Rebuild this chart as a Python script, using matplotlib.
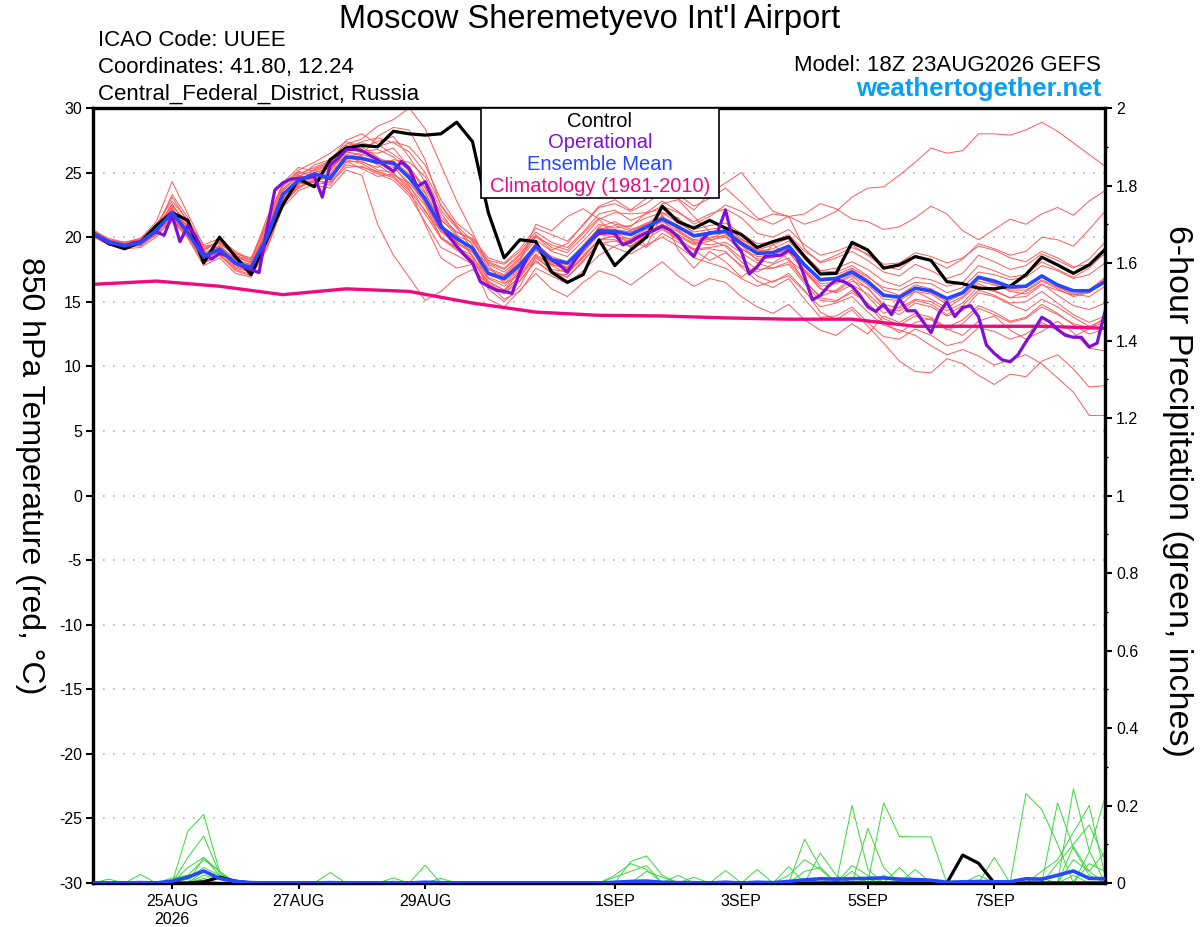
import matplotlib
matplotlib.use("Agg")
import matplotlib.pyplot as plt
from matplotlib.patches import Rectangle
from matplotlib.ticker import MultipleLocator
import pandas as pd

plt.rcParams['font.family'] = ['Liberation Sans', 'DejaVu Sans']

# 6-hourly GEFS times, 3-hourly operational, daily climatology
times = pd.date_range('2026-08-23 18:00', periods=65, freq='6h')
op_times = pd.date_range('2026-08-23 18:00', periods=129, freq='3h')
clim_times = pd.date_range('2026-08-23 18:00', periods=17, freq='1D')

control = [20.3, 19.5, 19.1, 19.6, 20.9, 21.9, 21.3, 18.0, 20.0, 18.5,
           17.1, 19.8, 22.5, 24.5, 23.9, 26.0, 26.9, 27.1, 27.0, 28.2,
           28.0, 27.9, 28.0, 28.9, 27.4, 21.9, 18.4, 19.8, 19.65, 17.3,
           16.5, 17.1, 19.8, 17.8, 19.0, 20.0, 22.4, 21.2, 20.7, 21.3,
           20.7, 20.2, 19.2, 19.65, 20.0, 18.5, 17.15, 17.2, 19.6, 19.0,
           17.6, 17.85, 18.5, 18.2, 16.55, 16.4, 16.05, 16.0, 16.2, 17.1,
           18.45, 17.85, 17.2, 17.85, 19.05]

operational = [20.3, 19.9, 19.55, 19.45, 19.3, 19.55, 19.65, 20.1, 20.4, 20.15,
               21.7, 19.65, 20.9, 20.05, 18.75, 18.3, 18.75, 18.55, 18.0, 17.7,
               17.5, 17.25, 20.6, 23.65, 24.2, 24.5, 24.55, 24.6, 24.7, 23.1,
               25.6, 26.1, 26.75, 26.8, 26.7, 26.35, 26.0, 25.5, 25.1, 25.85,
               25.3, 23.9, 24.3, 23.0, 20.95, 20.05, 19.3, 18.6, 18.0, 16.55,
               16.2, 15.9, 15.8, 15.65, 17.3, 18.5, 19.3, 18.75, 18.25, 17.85,
               17.3, 18.25, 19.15, 19.8, 20.3, 20.35, 20.3, 19.4, 19.65, 20.05,
               20.35, 20.55, 20.85, 20.55, 20.05, 19.15, 18.5, 19.8, 20.35, 20.4,
               22.1, 19.65, 18.9, 17.15, 17.7, 18.5, 18.55, 18.6, 19.0, 18.5,
               16.95, 15.15, 15.5, 16.2, 16.7, 16.55, 16.2, 15.5, 14.6, 14.25,
               14.8, 14.0, 15.2, 14.3, 14.3, 13.45, 12.6, 14.1, 15.0, 13.85,
               14.55, 14.7, 13.85, 11.65, 11.0, 10.5, 10.35, 10.9, 11.9, 12.8,
               13.8, 13.45, 12.85, 12.4, 12.25, 12.25, 11.5, 11.8, 14.25]

ens_mean = [20.3, 19.65, 19.35, 19.55, 20.5, 21.9, 20.35, 18.5, 19.05, 18.0,
            17.65, 20.0, 23.3, 24.4, 24.9, 24.55, 26.2, 26.1, 25.8, 25.75,
            24.6, 23.0, 20.8, 19.9, 19.15, 17.2, 16.8, 17.85, 19.3, 18.25,
            18.0, 19.15, 20.5, 20.45, 20.2, 20.8, 21.4, 20.8, 20.1, 20.3,
            20.45, 19.5, 18.75, 18.8, 19.3, 17.85, 16.7, 16.8, 17.3, 16.55,
            15.5, 15.35, 16.05, 15.85, 15.25, 15.7, 16.9, 16.6, 16.15, 16.2,
            17.0, 16.3, 15.85, 15.85, 16.55]

climatology = [16.35, 16.6, 16.2, 15.55, 16.0, 15.8, 14.9, 14.2, 13.95,
               13.9, 13.75, 13.65, 13.65, 13.1, 13.1, 13.1, 12.95]

members = [
    [20.6, 19.8, 19.5, 19.9, 20.8, 22.5, 21.0, 19.2, 19.6, 18.8, 18.2, 21.5, 24.0, 25.2, 25.8,
     26.5, 27.4, 27.0, 26.2, 25.5, 24.0, 22.0, 20.5, 19.6, 18.9, 18.0, 17.5, 18.6, 20.0, 19.4,
     19.0, 20.3, 21.5, 21.0, 20.8, 21.9, 22.8, 22.0, 21.0, 21.6, 22.5, 22.0, 21.3, 21.8, 21.6,
     21.0, 21.4, 22.0, 23.1, 23.8, 23.9, 24.8, 25.8, 26.9, 26.5, 26.7, 28.0, 28.0, 27.9, 28.3,
     28.9, 28.2, 27.3, 26.4, 25.5],
    [20.1, 19.4, 19.2, 19.4, 20.2, 22.0, 20.8, 18.3, 18.6, 17.6, 17.3, 19.5, 22.8, 24.0, 25.3,
     25.8, 27.5, 28.0, 27.2, 26.4, 25.5, 23.5, 21.0, 19.4, 18.2, 16.3, 15.8, 17.0, 18.6, 17.4,
     16.9, 18.1, 19.6, 19.2, 18.7, 19.4, 20.0, 19.3, 18.4, 18.0, 17.6, 16.8, 16.2, 16.6, 17.0,
     15.8, 14.6, 14.9, 15.4, 14.2, 13.2, 12.8, 12.4, 11.6, 10.9, 11.3, 10.8, 10.1, 10.5, 10.9,
     10.2, 9.1, 8.0, 6.2, 6.2],
    [20.4, 19.6, 19.3, 19.7, 20.6, 23.3, 21.5, 18.8, 19.3, 18.3, 17.8, 20.6, 23.6, 24.8, 24.3,
     25.1, 26.6, 26.3, 27.8, 28.5, 28.3, 26.0, 22.4, 20.8, 19.0, 16.6, 15.9, 17.4, 19.6, 18.4,
     17.6, 19.0, 20.8, 21.2, 20.6, 21.0, 21.9, 21.5, 20.2, 19.8, 19.3, 18.1, 17.0, 16.5, 17.2,
     15.9, 14.2, 13.6, 14.4, 13.1, 11.8, 10.4, 9.6, 9.5, 10.6, 10.2, 9.3, 8.6, 9.4, 9.2,
     10.4, 10.9, 9.8, 8.4, 8.5],
    [20.5, 19.7, 19.5, 19.6, 20.4, 21.6, 20.1, 18.6, 19.4, 18.2, 17.9, 19.9, 23.0, 24.6, 25.6,
     26.0, 27.2, 27.6, 28.6, 29.1, 30.0, 28.4, 25.6, 22.8, 20.4, 17.8, 16.4, 17.1, 18.7, 17.8,
     17.2, 18.4, 19.8, 20.1, 19.5, 20.3, 21.0, 20.1, 19.4, 19.7, 20.2, 19.4, 18.2, 18.0, 18.8,
     17.4, 16.0, 15.8, 16.6, 16.1, 14.6, 14.0, 14.9, 14.6, 13.9, 14.3, 15.7, 15.4, 14.8, 14.3,
     15.2, 14.6, 13.8, 13.1, 13.6],
    [20.2, 19.5, 19.4, 19.3, 20.2, 21.3, 20.4, 18.0, 18.7, 17.4, 17.0, 19.2, 22.4, 24.2, 24.0,
     23.8, 25.2, 24.8, 21.0, 18.6, 16.9, 15.1, 15.8, 16.9, 17.5, 16.4, 15.2, 15.8, 17.6, 17.0,
     16.4, 17.4, 18.6, 19.3, 19.8, 19.2, 20.3, 19.6, 19.0, 18.2, 18.8, 17.8, 17.3, 17.9, 18.4,
     16.6, 15.4, 15.9, 16.8, 15.4, 14.1, 14.6, 15.8, 15.2, 14.5, 15.3, 16.4, 15.9, 15.3, 15.8,
     16.6, 16.0, 15.4, 15.7, 16.8],
    [20.5, 19.9, 19.6, 19.8, 21.0, 22.8, 21.3, 19.4, 19.9, 18.9, 18.3, 20.9, 23.9, 25.1, 24.7,
     25.2, 26.8, 26.9, 27.4, 27.8, 26.2, 24.3, 21.6, 20.4, 19.8, 17.9, 17.3, 18.4, 20.1, 19.0,
     19.5, 21.0, 22.4, 22.9, 22.1, 23.0, 24.1, 23.3, 22.4, 23.0, 23.8, 22.7, 21.5, 21.0, 21.6,
     19.1, 18.0, 18.4, 18.9, 18.2, 17.3, 17.0, 17.9, 17.4, 16.8, 17.2, 18.6, 18.1, 17.5, 17.8,
     18.7, 18.2, 17.6, 18.3, 19.6],
    [20.0, 19.5, 19.1, 19.2, 20.0, 21.5, 19.9, 17.8, 18.4, 17.2, 16.9, 19.1, 22.3, 23.6, 24.1,
     24.2, 25.4, 25.5, 24.9, 24.4, 23.2, 21.2, 19.2, 18.6, 17.9, 15.2, 14.6, 15.9, 17.2, 16.0,
     15.4, 16.5, 17.4, 17.0, 16.3, 17.2, 18.1, 17.0, 16.2, 16.8, 16.5, 15.4, 14.6, 14.1, 14.8,
     13.6, 12.8, 12.4, 13.3, 12.5, 13.9, 13.4, 14.1, 13.8, 13.0, 13.6, 14.7, 14.2, 13.5, 13.8,
     14.8, 14.1, 13.2, 12.5, 12.9],
    [20.3, 19.8, 19.6, 19.9, 20.7, 22.2, 20.6, 18.9, 19.8, 18.7, 18.4, 21.2, 24.2, 25.4, 25.1,
     25.6, 26.9, 26.6, 26.5, 26.9, 25.4, 23.8, 21.4, 20.1, 19.6, 18.2, 17.9, 18.9, 20.4, 19.6,
     19.2, 20.4, 21.8, 22.1, 21.3, 21.8, 22.4, 21.9, 21.2, 21.8, 22.2, 21.5, 20.3, 20.0, 20.6,
     19.4, 18.6, 18.9, 19.4, 18.6, 17.7, 17.5, 18.5, 18.2, 17.6, 18.3, 19.5, 19.1, 18.6, 18.9,
     20.0, 19.8, 19.3, 20.6, 22.0],
    [20.2, 19.6, 19.4, 19.5, 20.3, 21.8, 20.2, 18.2, 18.9, 17.8, 17.4, 19.7, 22.9, 23.9, 24.5,
     24.0, 25.8, 25.9, 25.2, 25.0, 23.7, 21.0, 18.4, 17.6, 17.9, 16.0, 15.0, 16.2, 18.5, 17.9,
     17.5, 18.8, 20.2, 20.0, 19.9, 20.6, 21.2, 20.5, 19.8, 20.0, 20.1, 19.1, 18.5, 18.6, 19.1,
     17.5, 16.4, 16.5, 17.1, 16.3, 15.2, 15.1, 15.8, 15.6, 14.8, 15.4, 16.6, 16.3, 15.9, 15.9,
     16.7, 16.1, 15.6, 15.4, 16.2],
    [20.4, 19.7, 19.4, 19.8, 20.7, 22.4, 21.1, 19.0, 19.7, 18.5, 18.0, 20.7, 23.7, 24.9, 25.4,
     25.9, 27.0, 26.8, 26.0, 25.6, 24.8, 23.4, 21.3, 20.4, 19.9, 18.4, 18.0, 19.1, 20.7, 20.2,
     19.7, 20.9, 22.3, 22.6, 22.0, 22.6, 23.5, 23.0, 22.1, 23.4, 24.2, 25.0, 23.5, 22.0, 21.6,
     21.8, 22.6, 22.2, 21.4, 21.2, 20.6, 20.8, 21.5, 22.4, 21.8, 20.5, 19.8, 20.6, 21.4, 21.0,
     21.8, 22.3, 21.7, 22.8, 23.6],
    [20.1, 19.5, 19.2, 19.4, 20.4, 22.1, 20.5, 18.4, 19.0, 17.9, 17.6, 20.2, 23.1, 24.3, 24.8,
     24.4, 26.1, 26.6, 26.8, 26.2, 25.1, 23.9, 21.9, 20.2, 18.5, 16.8, 16.2, 17.3, 19.0, 18.0,
     17.9, 19.3, 20.6, 20.9, 20.5, 21.1, 21.5, 20.6, 19.6, 19.4, 19.6, 18.8, 18.0, 17.6, 17.9,
     16.4, 15.1, 15.0, 15.9, 14.8, 13.4, 12.6, 13.4, 13.7, 12.9, 12.4, 13.5, 13.9, 12.8, 12.1,
     12.7, 13.5, 12.6, 11.4, 11.2],
    [20.3, 19.7, 19.3, 19.6, 20.6, 21.9, 20.9, 18.7, 19.2, 18.4, 18.1, 20.4, 23.4, 24.5, 24.2,
     24.9, 26.4, 26.2, 25.6, 24.8, 24.2, 22.7, 20.6, 19.7, 19.3, 17.5, 17.0, 18.1, 21.0, 20.5,
     21.6, 22.2, 21.4, 20.0, 19.2, 20.3, 22.6, 22.9, 21.6, 20.4, 20.5, 19.7, 18.9, 19.1, 19.7,
     18.3, 17.1, 17.1, 17.6, 16.9, 16.1, 15.9, 16.5, 16.4, 15.7, 16.1, 17.3, 17.1, 16.7, 16.9,
     17.8, 17.4, 16.8, 17.1, 18.0],
    [20.4, 19.6, 19.5, 19.7, 20.5, 21.7, 20.3, 18.5, 19.1, 18.1, 17.5, 19.8, 22.7, 24.1, 25.0,
     25.4, 26.3, 25.8, 25.4, 26.0, 25.8, 24.7, 22.1, 20.7, 19.4, 17.1, 16.6, 17.6, 19.1, 18.1,
     17.7, 19.0, 20.3, 20.2, 19.6, 20.2, 20.7, 19.9, 19.0, 19.1, 18.9, 17.7, 16.6, 16.1, 16.8,
     15.2, 13.8, 13.9, 14.6, 13.4, 12.3, 12.1, 12.9, 12.4, 11.6, 11.9, 13.0, 12.7, 12.1, 12.5,
     13.4, 12.8, 12.3, 12.9, 13.8],
    [20.2, 19.6, 19.3, 19.6, 20.4, 21.4, 20.0, 18.1, 18.8, 17.7, 17.3, 19.6, 22.6, 23.8, 24.4,
     24.6, 25.9, 25.3, 24.7, 24.9, 23.9, 22.5, 20.0, 19.1, 18.4, 16.2, 15.6, 16.6, 18.2, 17.2,
     17.1, 18.6, 19.8, 19.8, 19.3, 20.1, 20.8, 20.2, 19.5, 19.9, 20.4, 19.6, 19.0, 19.4, 19.9,
     18.6, 17.4, 17.3, 17.8, 17.0, 15.9, 15.5, 16.3, 16.0, 15.2, 15.7, 16.8, 16.4, 15.8, 15.6,
     16.4, 15.5, 14.7, 14.4, 14.9],
    [20.5, 19.8, 19.6, 19.9, 21.2, 24.3, 21.8, 19.3, 19.5, 18.6, 18.0, 20.5, 23.6, 24.7, 25.2,
     25.7, 27.1, 27.3, 27.0, 27.4, 27.0, 25.6, 22.9, 21.1, 20.1, 18.1, 17.6, 18.7, 20.2, 19.2,
     18.8, 20.0, 21.4, 21.9, 21.8, 21.9, 22.2, 21.4, 20.6, 20.9, 21.1, 20.3, 19.5, 19.6, 20.0,
     18.6, 17.4, 17.6, 18.1, 17.5, 16.6, 16.2, 16.9, 16.7, 16.2, 16.5, 17.8, 17.4, 16.9, 17.1,
     18.1, 17.5, 16.9, 17.6, 18.8],
    [20.3, 19.6, 19.2, 19.5, 20.5, 22.6, 20.7, 18.6, 19.2, 18.0, 17.7, 20.1, 23.2, 24.2, 24.6,
     24.8, 26.0, 25.7, 25.0, 24.6, 23.4, 21.8, 19.9, 19.0, 18.1, 16.5, 15.9, 16.9, 18.4, 17.5,
     17.3, 18.5, 19.8, 20.1, 20.5, 19.3, 21.8, 19.0, 17.6, 18.9, 18.1, 16.9, 17.8, 19.5, 18.2,
     17.3, 16.0, 15.7, 16.3, 15.6, 14.5, 14.3, 15.1, 14.8, 14.0, 14.7, 15.9, 15.5, 14.9, 15.0,
     15.8, 14.9, 14.0, 13.4, 13.9],
    [20.4, 19.7, 19.4, 19.5, 20.3, 22.0, 20.3, 18.5, 19.3, 18.3, 17.8, 20.3, 23.3, 24.4, 25.0,
     25.3, 26.6, 26.4, 26.0, 25.9, 24.9, 22.6, 20.4, 19.5, 18.8, 17.3, 16.9, 18.0, 19.4, 18.5,
     18.1, 19.4, 20.7, 20.6, 20.4, 21.0, 21.6, 20.9, 20.2, 20.4, 20.6, 19.8, 19.3, 19.7, 20.2,
     18.9, 18.1, 18.6, 19.2, 18.7, 17.9, 18.0, 18.8, 18.5, 18.0, 18.4, 19.3, 19.0, 18.4, 18.1,
     18.9, 18.4, 17.7, 17.9, 18.7],
    [20.2, 19.5, 19.3, 19.6, 20.6, 22.3, 20.4, 18.4, 18.9, 17.9, 17.6, 19.9, 22.9, 24.2, 24.7,
     24.7, 26.2, 26.0, 25.7, 25.4, 24.2, 22.8, 20.6, 19.6, 18.9, 16.9, 16.4, 17.5, 19.0, 17.9,
     17.6, 18.9, 20.2, 20.3, 19.8, 20.4, 21.0, 20.4, 19.7, 19.8, 20.0, 19.1, 18.3, 18.4, 18.9,
     17.4, 16.2, 16.4, 17.0, 16.0, 14.8, 14.5, 15.2, 15.0, 14.3, 14.9, 16.2, 15.8, 15.3, 15.4,
     16.3, 15.9, 15.5, 15.9, 16.9],
    [20.3, 19.6, 19.4, 19.7, 20.8, 23.1, 21.2, 19.1, 19.6, 18.6, 18.2, 21.0, 24.0, 25.0, 24.8,
     25.4, 26.8, 27.4, 27.7, 27.3, 26.6, 25.0, 22.5, 20.9, 19.7, 17.6, 17.1, 18.3, 19.8, 18.9,
     18.5, 19.7, 21.0, 20.7, 20.9, 21.5, 21.9, 21.1, 20.4, 20.6, 20.8, 19.9, 19.0, 18.9, 19.4,
     17.9, 16.8, 16.9, 17.5, 16.7, 15.6, 15.3, 16.0, 15.7, 15.0, 15.6, 16.8, 16.5, 16.0, 16.1,
     16.9, 16.2, 15.6, 15.7, 16.5],
    [20.1, 19.4, 19.2, 19.4, 20.2, 21.2, 20.0, 18.0, 18.6, 17.5, 17.1, 19.3, 22.5, 23.9, 24.3,
     24.3, 25.6, 25.4, 25.1, 24.7, 23.6, 22.1, 20.0, 19.2, 18.6, 16.4, 15.7, 16.7, 18.1, 17.3,
     16.9, 18.2, 19.5, 19.7, 19.3, 19.9, 20.6, 19.8, 19.1, 19.2, 19.4, 18.4, 17.5, 17.6, 18.1,
     16.6, 15.3, 15.1, 15.7, 14.9, 13.7, 13.2, 13.9, 13.6, 12.8, 13.3, 14.5, 14.0, 13.4, 13.7,
     14.6, 14.0, 13.3, 13.0, 13.4],
]

# 6-hour precip (inches)
control_precip = [0, 0, 0, 0, 0, 0, 0, 0.003, 0.015, 0.005,
                  0, 0, 0, 0, 0, 0, 0, 0, 0, 0,
                  0, 0, 0, 0, 0, 0, 0, 0, 0, 0,
                  0, 0, 0, 0, 0, 0, 0, 0, 0, 0,
                  0, 0, 0, 0, 0, 0, 0, 0, 0, 0,
                  0, 0, 0, 0, 0, 0.072, 0.051, 0, 0, 0,
                  0, 0, 0, 0, 0]
mean_precip = [0, 0, 0, 0.001, 0, 0.005, 0.015, 0.031, 0.012, 0.004,
               0.001, 0, 0, 0, 0, 0.001, 0, 0, 0, 0.001,
               0, 0.002, 0.001, 0, 0, 0, 0, 0, 0, 0,
               0, 0, 0, 0.002, 0.004, 0.005, 0.002, 0.001, 0.001, 0,
               0.002, 0, 0.002, 0.001, 0.004, 0.008, 0.011, 0.01, 0.011, 0.012,
               0.013, 0.01, 0.009, 0.007, 0.002, 0.003, 0.004, 0.003, 0.003, 0.011,
               0.01, 0.02, 0.031, 0.012, 0.011]
precip_members = [
    [0, 0, 0, 0, 0, 0, 0.134, 0.177, 0.03, 0, 0, 0, 0, 0, 0, 0, 0, 0, 0, 0, 0, 0.046, 0, 0, 0,
     0, 0, 0, 0, 0, 0, 0, 0, 0, 0, 0, 0, 0, 0, 0, 0, 0, 0, 0, 0, 0.113, 0.04, 0, 0, 0,
     0, 0, 0, 0, 0, 0, 0, 0, 0, 0.231, 0.19, 0.1, 0, 0, 0],
    [0, 0, 0, 0.022, 0, 0, 0.066, 0.121, 0.025, 0, 0, 0, 0, 0, 0, 0, 0, 0, 0, 0, 0, 0, 0, 0, 0,
     0, 0, 0, 0, 0, 0, 0, 0, 0, 0, 0, 0, 0, 0, 0, 0, 0, 0, 0, 0, 0, 0, 0, 0.2, 0.035,
     0, 0, 0, 0, 0, 0, 0, 0, 0, 0, 0, 0, 0.243, 0.084, 0],
    [0, 0, 0, 0, 0, 0, 0.04, 0.066, 0.02, 0, 0, 0, 0, 0, 0, 0.027, 0, 0, 0, 0, 0, 0, 0, 0, 0,
     0, 0, 0, 0, 0, 0, 0, 0, 0, 0, 0, 0, 0, 0, 0, 0, 0, 0, 0, 0, 0, 0, 0, 0, 0,
     0.207, 0.12, 0.119, 0.119, 0, 0, 0, 0, 0, 0, 0, 0, 0, 0.08, 0.221],
    [0, 0, 0, 0, 0, 0.013, 0.02, 0.06, 0.03, 0, 0, 0, 0, 0, 0, 0, 0, 0, 0, 0.013, 0, 0, 0, 0, 0,
     0, 0, 0, 0, 0, 0, 0, 0, 0, 0, 0, 0, 0, 0, 0, 0, 0, 0, 0, 0.042, 0, 0, 0, 0, 0.141,
     0.04, 0, 0, 0, 0, 0, 0, 0, 0, 0, 0, 0.207, 0.09, 0.02, 0],
    [0, 0, 0, 0, 0, 0, 0, 0.066, 0.03, 0, 0, 0, 0, 0, 0, 0, 0, 0, 0, 0, 0, 0, 0, 0, 0,
     0, 0, 0, 0, 0, 0, 0, 0, 0, 0.055, 0.07, 0.02, 0, 0, 0, 0, 0, 0, 0, 0, 0, 0.077, 0.02, 0, 0,
     0, 0, 0, 0, 0, 0, 0, 0.066, 0, 0, 0, 0, 0.094, 0.03, 0.08],
    [0, 0, 0, 0, 0, 0, 0.01, 0.04, 0.02, 0, 0, 0, 0, 0, 0, 0, 0, 0, 0, 0, 0, 0, 0, 0, 0,
     0, 0, 0, 0, 0, 0, 0, 0, 0.02, 0.05, 0.035, 0, 0, 0.015, 0, 0, 0, 0.035, 0, 0, 0, 0, 0, 0.045, 0.02,
     0, 0.04, 0, 0, 0, 0, 0, 0, 0, 0, 0.03, 0.06, 0.13, 0.2, 0.02],
    [0, 0.01, 0, 0, 0, 0, 0, 0.02, 0.01, 0, 0, 0, 0, 0, 0, 0, 0, 0, 0, 0, 0, 0, 0, 0, 0,
     0, 0, 0, 0, 0, 0, 0, 0, 0, 0, 0, 0, 0, 0, 0, 0.032, 0, 0, 0, 0, 0.03, 0.04, 0, 0, 0,
     0, 0, 0.035, 0, 0, 0, 0.02, 0, 0, 0, 0, 0.05, 0.1, 0.15, 0.06],
    [0, 0, 0, 0, 0, 0, 0, 0.03, 0.015, 0, 0, 0, 0, 0, 0, 0, 0, 0, 0, 0, 0, 0, 0.012, 0, 0,
     0, 0, 0, 0, 0, 0, 0, 0, 0, 0, 0, 0, 0.02, 0, 0, 0, 0, 0, 0, 0.02, 0.06, 0.035, 0, 0, 0,
     0, 0, 0, 0, 0, 0, 0, 0, 0, 0, 0.012, 0, 0.06, 0.03, 0],
    [0, 0, 0, 0, 0, 0, 0, 0.012, 0, 0, 0, 0, 0, 0, 0, 0, 0, 0, 0, 0, 0, 0, 0, 0, 0,
     0, 0, 0, 0, 0, 0, 0, 0, 0, 0, 0.03, 0.015, 0, 0, 0, 0, 0, 0, 0, 0, 0, 0, 0, 0.03, 0,
     0.02, 0, 0, 0, 0, 0, 0, 0, 0, 0, 0, 0, 0, 0.05, 0.03],
    [0, 0, 0, 0, 0, 0, 0, 0.008, 0, 0, 0, 0, 0, 0, 0, 0, 0, 0, 0, 0, 0, 0, 0, 0, 0,
     0, 0, 0, 0, 0, 0, 0, 0, 0.015, 0.03, 0.045, 0, 0, 0, 0, 0, 0, 0, 0, 0, 0, 0, 0.015, 0, 0.01,
     0, 0, 0, 0, 0, 0, 0, 0, 0, 0, 0, 0, 0.02, 0, 0],
]

date_ticks = pd.to_datetime(['2026-08-25', '2026-08-27', '2026-08-29', '2026-09-01',
                             '2026-09-03', '2026-09-05', '2026-09-07'])
date_labels = ['25AUG\n2026', '27AUG', '29AUG', '1SEP', '3SEP', '5SEP', '7SEP']
temp_ticks = [30, 25, 20, 15, 10, 5, 0, -5, -10, -15, -20, -25, -30]
precip_ticks = [0, 0.2, 0.4, 0.6, 0.8, 1, 1.2, 1.4, 1.6, 1.8, 2]
precip_labels = ['0', '0.2', '0.4', '0.6', '0.8', '1', '1.2', '1.4', '1.6', '1.8', '2']

RED = '#ff5a5a'
GREEN = '#3ad83a'
PURPLE = '#8010d8'
BLUE = '#2448ff'
PINK = '#f00a80'

fig = plt.figure(figsize=(12, 9.27), dpi=100)
ax = fig.add_axes([93 / 1200, 44 / 927, 1012 / 1200, 775 / 927])
ax2 = ax.twinx()

for m in members:
    ax.plot(times, m, color=RED, lw=0.7, zorder=2)

ax.plot(clim_times, climatology, color=PINK, lw=2.4, zorder=4)
ax.plot(times, control, color='black', lw=2.3, zorder=5)
ax.plot(op_times, operational, color=PURPLE, lw=2.3, zorder=6)
ax.plot(times, ens_mean, color=BLUE, lw=2.6, zorder=7)

for p in precip_members:
    ax2.plot(times, p, color=GREEN, lw=0.7, zorder=2)
ax2.plot(times, control_precip, color='black', lw=2.3, zorder=5)
ax2.plot(times, mean_precip, color=BLUE, lw=2.6, zorder=6)

ax.set_xlim(times[0], times[-1])
ax.set_ylim(-30, 30)
ax2.set_ylim(0, 2)

for t in temp_ticks[1:-1]:
    ax.axhline(t, color='#b4b4b4', lw=1.2, linestyle=(0, (1, 5)), zorder=1)

ax.set_yticks(temp_ticks)
ax.set_yticklabels([str(t) for t in temp_ticks])
ax2.set_yticks(precip_ticks)
ax2.set_yticklabels(precip_labels)
ax2.yaxis.set_minor_locator(MultipleLocator(0.1))
ax.set_xticks(date_ticks)
ax.set_xticklabels(date_labels)

ax.tick_params(axis='y', labelsize=11.5, length=5, width=1.5, pad=3)
ax2.tick_params(axis='y', which='major', labelsize=11.5, length=5, width=1.5, pad=3)
ax2.tick_params(axis='y', which='minor', length=2.5, width=1)
ax.tick_params(axis='x', labelsize=11.5, length=4, width=1.5, pad=4)
for a in (ax, ax2):
    for s in a.spines.values():
        s.set_linewidth(2.3)

# axis titles, both reading top to bottom
fig.text(30 / 1200, 1 - 476 / 927, '850 hPa Temperature (red, °C)', fontsize=23,
         rotation=270, ha='center', va='center')
fig.text(1178 / 1200, 1 - 491 / 927, '6-hour Precipitation (green, inches)', fontsize=24.5,
         rotation=270, ha='center', va='center')

# header texts
fig.text(590 / 1200, 1 - 28 / 927, "Moscow Sheremetyevo Int'l Airport", fontsize=23.5,
         ha='center', va='baseline')
fig.text(98 / 1200, 1 - 46 / 927, 'ICAO Code: UUEE', fontsize=16, va='baseline')
fig.text(98 / 1200, 1 - 73 / 927, 'Coordinates: 41.80, 12.24', fontsize=16, va='baseline')
fig.text(98 / 1200, 1 - 100 / 927, 'Central_Federal_District, Russia', fontsize=16,
         va='baseline')
fig.text(1101 / 1200, 1 - 71 / 927, 'Model: 18Z 23AUG2026 GEFS', fontsize=16,
         ha='right', va='baseline')
fig.text(1101 / 1200, 1 - 96 / 927, 'weathertogether.net', fontsize=18.5, weight='bold',
         color='#0a9ff0', ha='right', va='baseline')

# legend box
fig.add_artist(Rectangle((481 / 1200, 1 - 198 / 927), 238 / 1200, 90 / 927,
                         transform=fig.transFigure, facecolor='white',
                         edgecolor='black', lw=1.2, zorder=10))
legend_items = [('Control', 'black', 127), ('Operational', PURPLE, 148),
                ('Ensemble Mean', BLUE, 170), ('Climatology (1981-2010)', PINK, 192)]
for name, col, yb in legend_items:
    fig.text(600 / 1200, 1 - yb / 927, name, color=col, fontsize=14.5, ha='center',
             va='baseline', zorder=11)

fig.savefig('out.png', dpi=100)
